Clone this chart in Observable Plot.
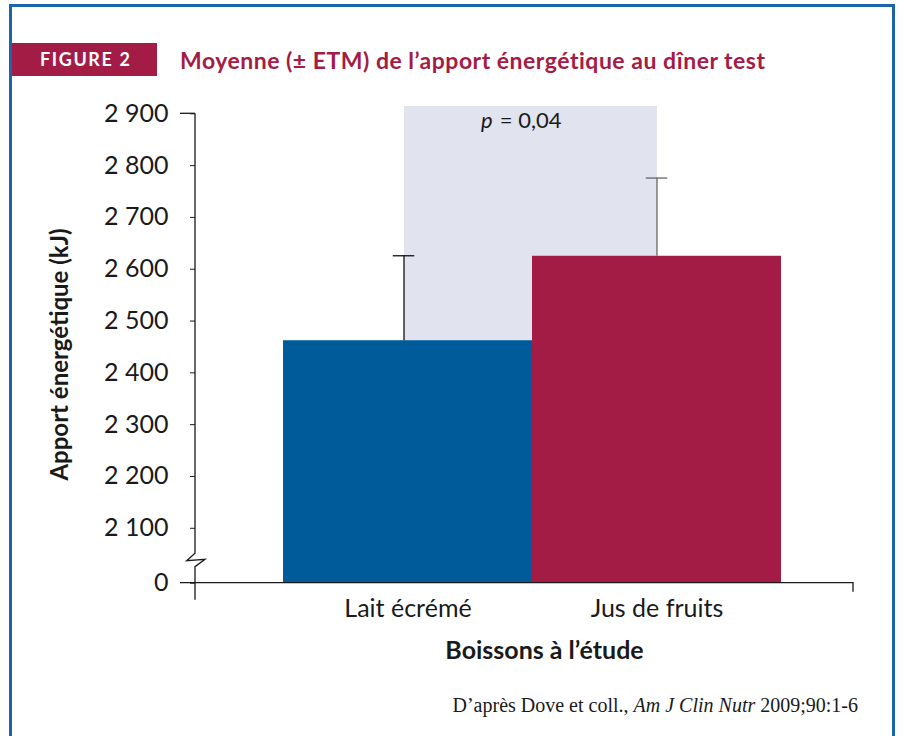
<!DOCTYPE html>
<html>
<head>
<meta charset="utf-8">
<script src="https://cdn.jsdelivr.net/npm/d3@7"></script>
<script src="https://cdn.jsdelivr.net/npm/@observablehq/plot@0.6"></script>
<style>
  html, body { margin: 0; padding: 0; background: #ffffff; }
  #page { position: relative; width: 904px; height: 736px; overflow: hidden; background: #fff; }
  #frame { position: absolute; left: 9px; top: 4px; width: 880px; height: 740px;
           border-left: 3px solid #1c65a8; border-top: 3px solid #1c65a8; border-right: 3px solid #1c65a8; }
  #figtag { position: absolute; left: 12px; top: 43px; width: 145px; height: 33px; background: #a31c45;
            color: #fff; font-family: Lato, sans-serif; font-weight: 700; font-size: 18px; letter-spacing: 1.6px;
            line-height: 33px; box-sizing: border-box; padding-left: 28px; }
  #title { position: absolute; left: 180px; top: 46px; font-family: Lato, sans-serif; font-weight: 700;
           font-size: 23px; letter-spacing: 0.5px; color: #a31c45; line-height: 28px; white-space: nowrap; }
  #chart { position: absolute; left: 0; top: 90px; }
  #source { position: absolute; right: 46px; top: 694px; font-family: "Liberation Serif", serif; font-size: 20px;
            color: #1a1a1a; white-space: nowrap; }
</style>
</head>
<body>
<div id="page">
  <div id="frame"></div>
  <div id="figtag">FIGURE 2</div>
  <div id="title">Moyenne (± ETM) de l’apport énergétique au dîner test</div>
  <div id="chart"></div>
  <div id="source">D’après Dove et coll., <i>Am J Clin Nutr</i> 2009;90:1-6</div>
</div>
<script>
// ---- data ----
const boissons = ["Lait écrémé", "Jus de fruits"];
const moyennes = [2462, 2625];
const etm = [164, 151];
const barColors = ["#005b9a", "#a31c45"];
const errColors = ["#111111", "#666666"];
const yTickValues = [1994, 2100, 2200, 2300, 2400, 2500, 2600, 2700, 2800, 2900];
const yTickLabels = ["0", "2 100", "2 200", "2 300", "2 400", "2 500", "2 600", "2 700", "2 800", "2 900"];
const axisBase = 1994;      // value drawn at the broken-axis "0"
const shadeTop = 2915;
const pValueY = 2873;
const yTitle = "Apport énergétique (kJ)";
const xTitle = "Boissons à l’étude";

// ---- layout ----
const W = 904, H = 580;
const mL = 195, mR = 51, mT = 23.3, mB = 87.3;
const padOuter = 0.3186, alignX = 0.547;
const bw = (W - mL - mR) / (boissons.length + 2 * padOuter);
const capW = 22;
const shade = "#e1e3ef";

const data = boissons.map((b, i) => ({boisson: b, moyenne: moyennes[i], haut: moyennes[i] + etm[i], err: errColors[i]}));
const labelMap = new Map(yTickValues.map((v, i) => [v, yTickLabels[i]]));

const marks = [
  Plot.barY([data[0]], {x: "boisson", y1: axisBase, y2: shadeTop, fill: shade, insetLeft: bw / 2 - 4, shapeRendering: "crispEdges"}),
  Plot.barY([data[1]], {x: "boisson", y1: axisBase, y2: shadeTop, fill: shade, insetRight: bw / 2 - 1, shapeRendering: "crispEdges"}),
  Plot.barY(data, {x: "boisson", y1: axisBase, y2: "moyenne", fill: "boisson"}),
  ...data.map((d, i) => Plot.ruleX([d], {x: "boisson", y1: "moyenne", y2: "haut", stroke: d.err, strokeWidth: 1.3, dx: i === 0 ? -4 : 0})),
  ...data.map((d, i) => Plot.tickY([d], {x: "boisson", y: "haut", stroke: d.err, strokeWidth: 1.3, dx: i === 0 ? -4 : 0,
                                    insetLeft: (bw - capW) / 2, insetRight: (bw - capW) / 2})),
  Plot.text(["p"], {x: () => boissons[0], y: pValueY, text: d => d, dx: bw / 2 - 40, textAnchor: "end",
                    lineAnchor: "bottom", fontSize: 22, fontStyle: "italic", fill: "#1a1a1a"}),
  Plot.text(["= 0,04"], {x: () => boissons[0], y: pValueY, text: d => d, dx: bw / 2 - 33, textAnchor: "start",
                    lineAnchor: "bottom", fontSize: 22, letterSpacing: 2.4, fill: "#1a1a1a"}),
  Plot.axisY(yTickValues, {tickFormat: d => labelMap.get(d), tickSize: 5, tickPadding: 22, fontSize: 25, label: null}),
  Plot.axisX({tickSize: 0, tickPadding: 16, fontSize: 25, letterSpacing: 0.5, label: null}),
  Plot.text([yTitle], {frameAnchor: "left", text: d => d, rotate: -90, dx: -135, dy: 6, fontSize: 24,
                       fontWeight: "bold", textAnchor: "middle", lineAnchor: "middle"}),
  Plot.text([xTitle], {frameAnchor: "bottom", text: d => d, dx: 20, dy: 68, fontSize: 25, letterSpacing: 0.6,
                       fontWeight: "bold", textAnchor: "middle", lineAnchor: "middle"})
];

const plot = Plot.plot({
  width: W, height: H,
  marginLeft: mL, marginRight: mR, marginTop: mT, marginBottom: mB,
  style: {fontFamily: "Lato, sans-serif", fontSize: "24px", color: "#1a1a1a", background: "transparent", overflow: "visible"},
  x: {type: "band", domain: boissons, paddingInner: 0, paddingOuter: padOuter, align: alignX},
  y: {domain: [axisBase, 2900]},
  color: {domain: boissons, range: barColors},
  marks
});

// broken axis lines drawn from the plot's own scales
const ys = plot.scale("y"), xs = plot.scale("x");
const x0 = xs.range[0], x1 = xs.range[1];
const y0 = ys.apply(axisBase), yTop = ys.apply(2900);
const g = d3.select(plot).append("g").attr("fill", "none").attr("stroke", "#1a1a1a").attr("stroke-width", 1.3);
g.append("path").attr("d", `M${x0},${yTop} V${y0 - 29.4} L${x0 - 8.3},${y0 - 22} L${x0 + 10},${y0 - 23.4} L${x0},${y0 - 16} V${y0 + 17}`);
g.append("path").attr("d", `M${x0 - 15},${yTop} H${x0}`);
g.append("path").attr("d", `M${x0 - 15},${y0} H${x1} V${y0 + 9}`);

document.getElementById("chart").appendChild(plot);
</script>
</body>
</html>
